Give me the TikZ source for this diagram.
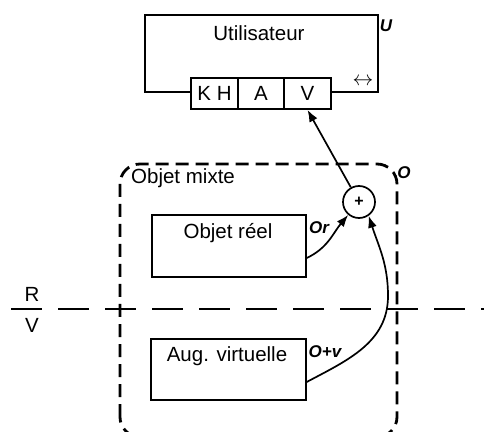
\documentclass[tikz,border=0pt]{standalone}
\usepackage{fontspec}
\setmainfont{Liberation Sans}
\usetikzlibrary{arrows.meta}
\tikzset{
  big/.style={font=\fontsize{20.5}{24}\selectfont, inner sep=0pt},
  tag/.style={font=\fontsize{17}{19}\selectfont\bfseries\itshape, inner sep=0pt},
  box/.style={draw, line width=1.7pt, rectangle, inner sep=0pt},
  cell/.style={box, fill=white, minimum width=47pt, minimum height=31pt, font=\fontsize{20.5}{24}\selectfont},
  dashbox/.style={draw, line width=2.8pt, dash pattern=on 13pt off 7pt, rounded corners=20pt},
  sepline/.style={line width=2.8pt, dash pattern=on 31pt off 16pt},
  conn/.style={line width=1.7pt, -{Latex[length=12pt,width=9pt]}},
}
\begin{document}
\begin{tikzpicture}[x=1pt,y=1pt]
\useasboundingbox (0,0) rectangle (484,431);
% user box
\node[box, minimum width=233pt, minimum height=77pt, anchor=south west] (user) at (144,338) {};
\node[big] (utxt) at (259,398) {Utilisateur};
\node[tag] (U) at (386,405) {U};
\node[font=\fontsize{20}{22}\selectfont, inner sep=0pt] (lr) at (363,349) {$\leftrightarrow$};
\node[cell] (kh) at (214.5,337.5) {K H};
\node[cell, minimum width=46pt] (a) at (261,337.5) {A};
\node[cell] (v) at (307.5,337.5) {V};
% mixed object
\draw[dashbox] (120,-6) rectangle (397,267);
\node[big, anchor=west] (mix) at (131,253) {Objet mixte};
\node[tag] (O) at (404,258) {O};
\node[box, minimum width=154pt, minimum height=62pt, anchor=south west] (reel) at (151,153) {};
\node[big] (reeltxt) at (228,198) {Objet réel};
\node[tag] (Or) at (319,203) {Or};
\node[box, minimum width=155pt, minimum height=61pt, anchor=south west] (aug) at (150,30) {};
\node[big] (augtxt) at (227,75) {Aug. virtuelle};
\node[tag] (Ov) at (325,79) {O+v};
\node[draw, circle, line width=1.7pt, minimum size=32pt, inner sep=0pt, font=\fontsize{16}{17}\selectfont\bfseries] (plus) at (359,229) {+};
% separator
\coordinate (s1) at (11,122);
\coordinate (s2) at (484,122);
\coordinate (bend) at (388,135);
\draw[sepline] (s1) -- (s2);
\node[big] (R) at (32,137) {R};
\node[big] (Vv) at (32,106) {V};
% connectors
\draw[conn] (plus) -- (v.south);
\draw[conn] (reel.east |- 0,173) to[out=25,in=-130] (plus.-130);
\draw[conn] (aug.east |- 0,49) to[out=28,in=-90] (bend) to[out=90,in=-72] (plus.-55);
\end{tikzpicture}
\end{document}
